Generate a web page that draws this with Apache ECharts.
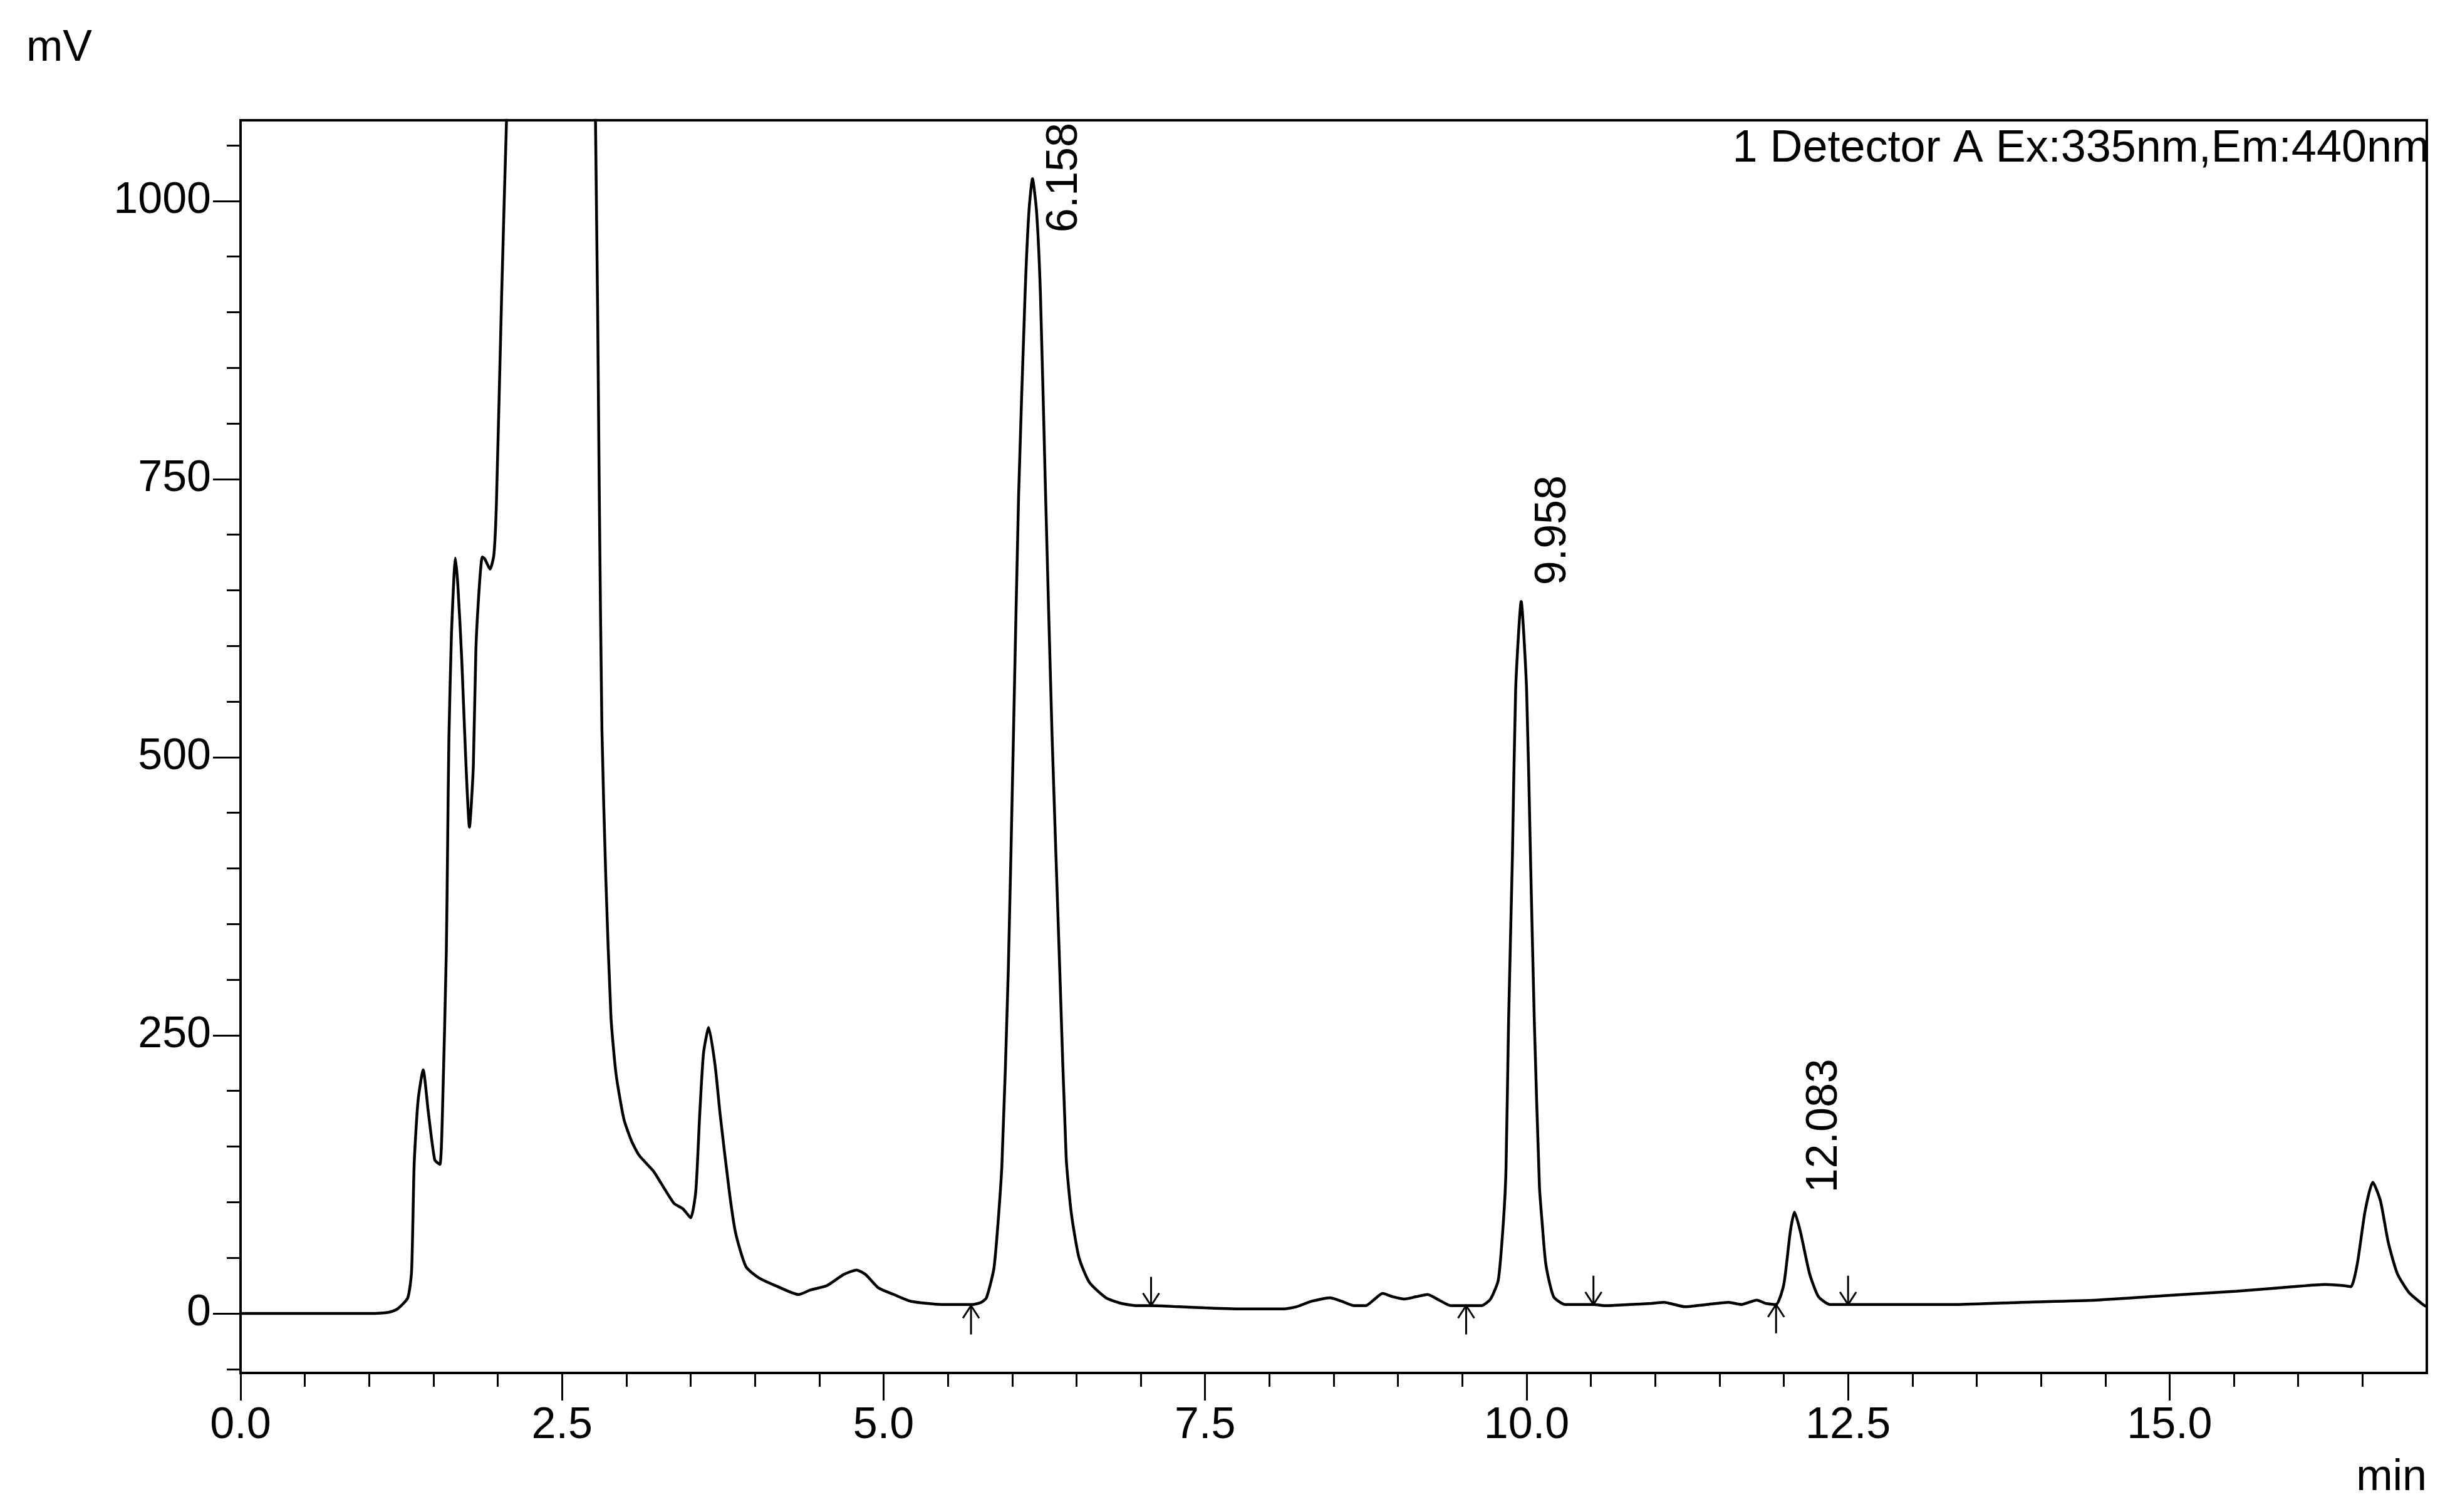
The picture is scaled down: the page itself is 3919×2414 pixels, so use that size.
<!DOCTYPE html>
<html>
<head>
<meta charset="utf-8">
<script src="https://cdn.jsdelivr.net/npm/echarts@6/dist/echarts.min.js"></script>
<style>
html,body{margin:0;padding:0;background:#ffffff;}
#chart{width:3919px;height:2414px;}
</style>
</head>
<body>
<div id="chart"></div>
<script>
// ---- data ----
const timeMin = [
  0, 0.5, 1.0, 1.15, 1.22, 1.30, 1.33, 1.35, 1.38, 1.42, 1.46, 1.51, 1.55, 1.57, 1.60, 1.61, 1.62, 1.64, 1.66, 1.67,
  1.69, 1.72, 1.75, 1.78, 1.81, 1.83, 1.86, 1.88, 1.90, 1.94, 1.97, 1.99, 2.03, 2.07, 2.15, 2.3, 2.45, 2.6, 2.7, 2.76,
  2.79, 2.81, 2.84, 2.88, 2.92, 2.98, 3.04, 3.10, 3.21, 3.27, 3.37, 3.44, 3.50, 3.54, 3.57, 3.60, 3.64, 3.69, 3.73, 3.80,
  3.85, 3.93, 4.03, 4.16, 4.34, 4.43, 4.56, 4.69, 4.79, 4.86, 4.96, 5.08, 5.21, 5.45, 5.69, 5.76, 5.80, 5.86, 5.92, 5.97,
  6.01, 6.05, 6.10, 6.13, 6.158, 6.19, 6.22, 6.26, 6.31, 6.37, 6.42, 6.46, 6.52, 6.60, 6.73, 6.85, 6.97, 7.08, 7.3, 7.5,
  7.8, 8.11, 8.21, 8.33, 8.47, 8.56, 8.66, 8.75, 8.82, 8.88, 8.96, 9.05, 9.14, 9.23, 9.32, 9.41, 9.53, 9.65, 9.72, 9.78,
  9.82, 9.84, 9.86, 9.89, 9.915, 9.958, 10.0, 10.03, 10.06, 10.10, 10.12, 10.15, 10.21, 10.30, 10.52, 10.62, 10.80, 10.97, 11.07, 11.15,
  11.23, 11.40, 11.57, 11.67, 11.79, 11.86, 11.94, 12.00, 12.05, 12.083, 12.13, 12.20, 12.27, 12.36, 12.50, 13.34, 13.85, 14.43, 14.97, 15.52,
  15.96, 16.21, 16.35, 16.41, 16.46, 16.52, 16.58, 16.64, 16.70, 16.77, 16.86, 16.97, 17.0
];
const signalMv = [
  0, 0, 0, 1, 4, 14, 38, 134, 191, 219, 181, 138, 134, 181, 325, 420, 516, 611, 664, 679,
  654, 588, 501, 437, 492, 597, 659, 680, 678, 669, 682, 730, 914, 1080, 1350, 1700, 1850, 1650, 1300, 1072,
  730, 525, 392, 267, 215, 175, 155, 142, 128, 117, 99, 94, 86, 110, 178, 234, 257, 223, 178, 110,
  72, 42, 32, 25, 17, 21, 25, 35, 39, 35, 23, 17, 11, 8, 8, 10, 14, 42, 133, 309,
  520, 735, 915, 990, 1020, 990, 915, 735, 520, 309, 140, 90, 50, 28, 14, 9, 7, 7, 6, 5,
  4, 4, 6, 11, 14, 11, 7, 7, 13, 18, 15, 13, 15, 17, 12, 7, 7, 7, 13, 30,
  83, 130, 263, 412, 561, 640, 561, 412, 263, 114, 83, 44, 15, 8, 8, 7, 8, 9, 10, 8,
  6, 8, 10, 8, 12, 9, 8, 26, 73, 91, 73, 36, 15, 8, 8, 8, 10, 12, 16, 20,
  24, 26, 25, 24, 45, 92, 118, 101, 64, 36, 19, 8, 6
];

const yTickValues = [0, 250, 500, 750, 1000];
const yMinorTickValues = [-50, 0, 50, 100, 150, 200, 250, 300, 350, 400, 450, 500, 550, 600, 650, 700, 750, 800, 850, 900, 950, 1000, 1050];
const xTickValues = [0, 2.5, 5, 7.5, 10, 12.5, 15];
const xMinorTickValues = [0, 0.5, 1, 1.5, 2, 2.5, 3, 3.5, 4, 4.5, 5, 5.5, 6, 6.5, 7, 7.5, 8, 8.5, 9, 9.5, 10, 10.5, 11, 11.5, 12, 12.5, 13, 13.5, 14, 14.5, 15, 15.5, 16, 16.5];

const peakTimes = [6.158, 9.958, 12.083];
const peakHeights = [1020, 640, 91];
const peakLabels = ['6.158', '9.958', '12.083'];

const peakStartTimes = [5.68, 9.53, 11.94];
const peakStartLevels = [7, 7, 8];
const peakEndTimes = [7.08, 10.52, 12.50];
const peakEndLevels = [7, 8, 8];

const detectorLabel = '1 Detector A Ex:335nm,Em:440nm';
const yUnit = 'mV';
const xUnit = 'min';

// ---- styling ----
const FONT = '"Liberation Sans", Arial, sans-serif';
const FS = 70;
const labelOffsets = [[52, 86], [51, -26], [48, -31]]; // pixel offsets of rotated peak labels from apex

const seriesData = timeMin.map((t, i) => [t, signalMv[i]]);
const markData = [];
peakStartTimes.forEach((t, i) => markData.push([t, peakStartLevels[i], 1]));
peakEndTimes.forEach((t, i) => markData.push([t, peakEndLevels[i], -1]));
const peakData = peakTimes.map((t, i) => [t, peakHeights[i], i]);

const chart = echarts.init(document.getElementById('chart'), null, {renderer: 'canvas'});

const baseAxisLine = {show: true, onZero: false, lineStyle: {color: '#000', width: 4}};

chart.setOption({
  backgroundColor: '#ffffff',
  animation: false,
  grid: {left: 384, right: 45, top: 192, bottom: 222, show: true, borderColor: '#000', borderWidth: 4, backgroundColor: 'transparent'},
  xAxis: [
    {
      type: 'value', min: 0, max: 17, position: 'bottom',
      axisLine: baseAxisLine,
      splitLine: {show: false},
      axisTick: {show: true, inside: false, length: 44, customValues: xTickValues, lineStyle: {color: '#000', width: 3}},
      axisLabel: {show: true, customValues: xTickValues, margin: 50, fontSize: FS, fontFamily: FONT, color: '#000',
        formatter: v => Number(v).toFixed(1)}
    },
    {
      type: 'value', min: 0, max: 17, position: 'bottom',
      axisLine: {show: false, onZero: false},
      splitLine: {show: false},
      axisTick: {show: true, inside: false, length: 22, customValues: xMinorTickValues, lineStyle: {color: '#000', width: 3}},
      axisLabel: {show: false}
    }
  ],
  yAxis: [
    {
      type: 'value', min: -53.5, max: 1072.5, position: 'left',
      axisLine: baseAxisLine,
      splitLine: {show: false},
      axisTick: {show: true, inside: false, length: 44, customValues: yTickValues, lineStyle: {color: '#000', width: 3}},
      axisLabel: {show: true, customValues: yTickValues, margin: 47, fontSize: FS, fontFamily: FONT, color: '#000',
        formatter: v => String(Math.round(v))}
    },
    {
      type: 'value', min: -53.5, max: 1072.5, position: 'left',
      axisLine: {show: false, onZero: false},
      splitLine: {show: false},
      axisTick: {show: true, inside: false, length: 22, customValues: yMinorTickValues, lineStyle: {color: '#000', width: 3}},
      axisLabel: {show: false}
    }
  ],
  graphic: [
    {type: 'text', x: 42, y: 78, style: {text: yUnit, font: FS + 'px ' + FONT, fill: '#000', textAlign: 'left', textVerticalAlign: 'middle'}},
    {type: 'text', x: 3874, y: 2360, style: {text: xUnit, font: FS + 'px ' + FONT, fill: '#000', textAlign: 'right', textVerticalAlign: 'middle'}},
    {type: 'text', x: 3878, y: 238, style: {text: detectorLabel, font: '72px ' + FONT, fill: '#000', textAlign: 'right', textVerticalAlign: 'middle'}}
  ],
  series: [
    {
      type: 'line', xAxisIndex: 0, yAxisIndex: 0, data: seriesData,
      showSymbol: false, smooth: 0.2, clip: true,
      lineStyle: {color: '#000', width: 4.5}, z: 3
    },
    {
      type: 'custom', xAxisIndex: 0, yAxisIndex: 0, data: markData, clip: false, z: 4,
      renderItem: function (params, api) {
        const p = api.coord([api.value(0), api.value(1)]);
        const dir = api.value(2); // 1 = up arrow (start), -1 = down arrow (end)
        const len = 46, hl = 20, hw = 13;
        const tail = p[1] + dir * len;
        const headBase = p[1] + dir * hl;
        return {
          type: 'group',
          children: [
            {type: 'line', shape: {x1: p[0], y1: tail, x2: p[0], y2: p[1]}, style: {stroke: '#000', lineWidth: 3}},
            {type: 'polyline', shape: {points: [[p[0] - hw, headBase], [p[0], p[1]], [p[0] + hw, headBase]]}, style: {stroke: '#000', lineWidth: 3, fill: null}}
          ]
        };
      }
    },
    {
      type: 'custom', xAxisIndex: 0, yAxisIndex: 0, data: peakData, clip: false, z: 5,
      renderItem: function (params, api) {
        const p = api.coord([api.value(0), api.value(1)]);
        const idx = api.value(2);
        const off = labelOffsets[idx];
        return {
          type: 'text',
          x: p[0] + off[0], y: p[1] + off[1], rotation: Math.PI / 2,
          style: {text: peakLabels[idx], font: FS + 'px ' + FONT, fill: '#000', align: 'left', verticalAlign: 'middle'}
        };
      }
    }
  ]
});
</script>
</body>
</html>
